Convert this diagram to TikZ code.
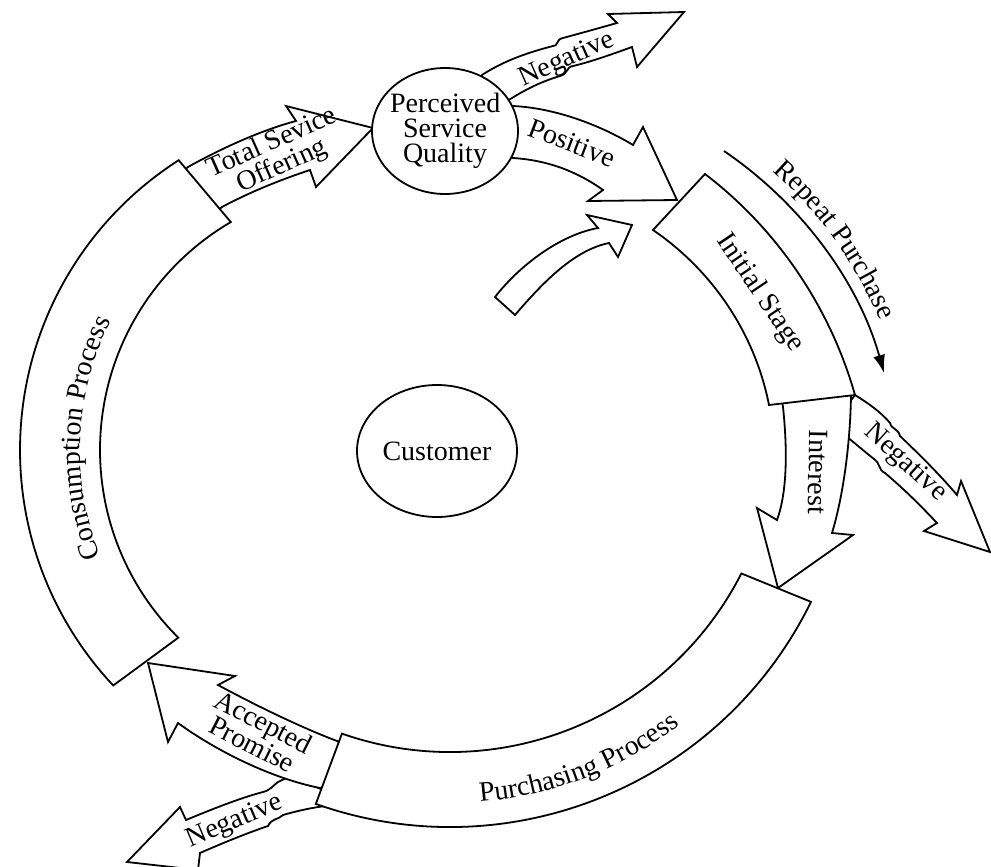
\documentclass[tikz,border=0pt]{standalone}
\usepackage{fontspec}
\setmainfont{Liberation Serif}
\usetikzlibrary{calc}
\usetikzlibrary{arrows,arrows.meta}
\usetikzlibrary{shapes.geometric}
\usetikzlibrary{decorations.text}
\newcommand{\diagfont}{\fontsize{14}{12.5}\selectfont}

\begin{document}
\begin{tikzpicture}[x=0.5pt,y=-0.5pt,line width=0.9pt,
    every node/.style={font=\diagfont},
    block/.style={draw,fill=white},
    tag/.style={align=center,inner sep=0pt},
    bend text/.style={decorate,decoration={text along path,text align=center,
      text={|\diagfont|#1}}}]
  \useasboundingbox (0,0) rectangle (991,867);
  \coordinate (cons c) at (364,450);
  \coordinate (purch c) at (450,425);

  % negative outcomes
  \draw[block] (472,88) -- (482,75)
    .. controls (505,60) and (530,52) .. (553,46)
    .. controls (558,47) and (556,39) .. (563,38)
    .. controls (585,32) and (603,27) .. (617,23)
    -- (608,14) -- (684,12) -- (637,67) -- (632,47)
    .. controls (610,55) and (590,62) .. (573,66)
    .. controls (566,67) and (568,74) .. (560,76)
    .. controls (540,82) and (525,90) .. (512,98) -- (500,105) -- cycle;
  \draw[block] (840,415) -- (855,395)
    .. controls (868,403) and (882,413) .. (890,423)
    .. controls (892,430) and (898,428) .. (900,436)
    .. controls (920,455) and (940,475) .. (957,495)
    -- (961,481) -- (990,552) -- (924,531) -- (937,523)
    .. controls (920,505) and (905,490) .. (885,473)
    .. controls (878,470) and (880,462) .. (874,459)
    .. controls (865,452) and (856,444) .. (847,437) -- cycle;
  \draw[block] (292,776) -- (282,780)
    .. controls (275,782) and (272,790) .. (263,792)
    .. controls (240,798) and (210,810) .. (186,820)
    -- (180,807) -- (127,862) -- (198,870) -- (200,853)
    .. controls (225,842) and (250,832) .. (268,826)
    .. controls (272,818) and (278,820) .. (283,815)
    .. controls (300,810) and (320,806) .. (335,805) -- (345,800) -- cycle;

  % flow arrows
  \draw[block] (183,171) -- (188,167)
    .. controls (222,148) and (262,130) .. (296,121)
    -- (286,106) -- (373,128) -- (316,187) -- (310,170)
    .. controls (280,180) and (250,192) .. (222,207) -- (217,211) -- cycle;
  \draw[block] (505,110) -- (513,106)
    .. controls (555,108) and (600,125) .. (633,145)
    -- (643,127) -- (677,200) -- (588,201) -- (603,190)
    .. controls (575,170) and (545,160) .. (513,158) -- (505,155) -- cycle;
  \draw[block] (495,297) .. controls (520,265) and (560,235) .. (598,228)
    -- (587,215) -- (632,225) -- (618,257) -- (609,243)
    .. controls (575,250) and (545,280) .. (515,315) -- cycle;
  \draw[block] (343,743) -- (337,741)
    .. controls (300,727) and (255,705) .. (218,685)
    -- (235,676) -- (148,663) -- (168,742) -- (178,723)
    .. controls (215,750) and (270,778) .. (320,788) -- (326,788) -- cycle;
  \draw[block] (782,401) -- (783,407)
    .. controls (787,445) and (788,490) .. (777,520)
    -- (757,508) -- (778,588) -- (853,535) -- (832,533)
    .. controls (842,500) and (850,450) .. (851,396) -- (850,390) -- cycle;

  % process bands
  \draw[block] ($(cons c)+(237.4:344)$) arc[start angle=237.4,end angle=136.8,radius=344]
    -- ($(cons c)+(134.7:264)$) arc[start angle=134.7,end angle=239.7,radius=264] -- cycle;
  \draw[block] ($(purch c)+(109.3:327)$) arc[start angle=109.3,end angle=27,radius=327]
    -- ($(purch c)+(26.1:402)$) arc[start angle=26.1,end angle=109.5,radius=402] -- cycle;
  \draw[block] (705,174) .. controls (777,229) and (830,307) .. (855,395) -- (769,405)
    .. controls (755,334) and (713,271) .. (653,230) -- cycle;

  \node[draw,fill=white,ellipse,inner xsep=-2pt,inner ysep=0pt,
    minimum width=73pt,minimum height=63pt,align=center] (N psq) at (445,131)
    {\raisebox{-3pt}{\parbox{55pt}{\centering Perceived\\Service\\Quality}}};
  \node[draw,ellipse,inner sep=0pt,minimum width=80pt,minimum height=66pt]
    (N cust) at (437,451) {Customer};

  \coordinate (rp start) at (724,151);
  \coordinate (rp end) at (884,373);
  \draw[-{Latex[length=9pt,width=6pt]}] (rp start)
    .. controls (802,204) and (859,283) .. (rp end);

  \path[bend text={Repeat Purchase}] (735,142) .. controls (813,195) and (870,276) .. (896,366);
  \path[bend text={Consumption Process}] ($(cons c)+(130:284)$)
    arc[start angle=130,end angle=235,radius=284];
  \path[bend text={Purchasing Process}] ($(purch c)+(110:378)$)
    arc[start angle=110,end angle=28,radius=378];

  \node[tag,rotate=24] (L neg top) at (567,60) {Negative};
  \node[tag,rotate=-21] (L pos) at (572,143) {Positive};
  \node[tag,rotate=24] (L tso) at (277,155) {Total Sevice\\Offering};
  \node[tag,rotate=-42] (L neg right) at (905,463) {Negative};
  \node[tag,rotate=23] (L neg bottom) at (235,822) {Negative};
  \node[tag,rotate=-27] (L ap) at (258,733) {Accepted\\Promise};
  \node[tag,rotate=-91] (L int) at (818,472) {Interest};
  \node[tag,rotate=-56] (L init) at (760,293) {Initial Stage};
\end{tikzpicture}
\end{document}
